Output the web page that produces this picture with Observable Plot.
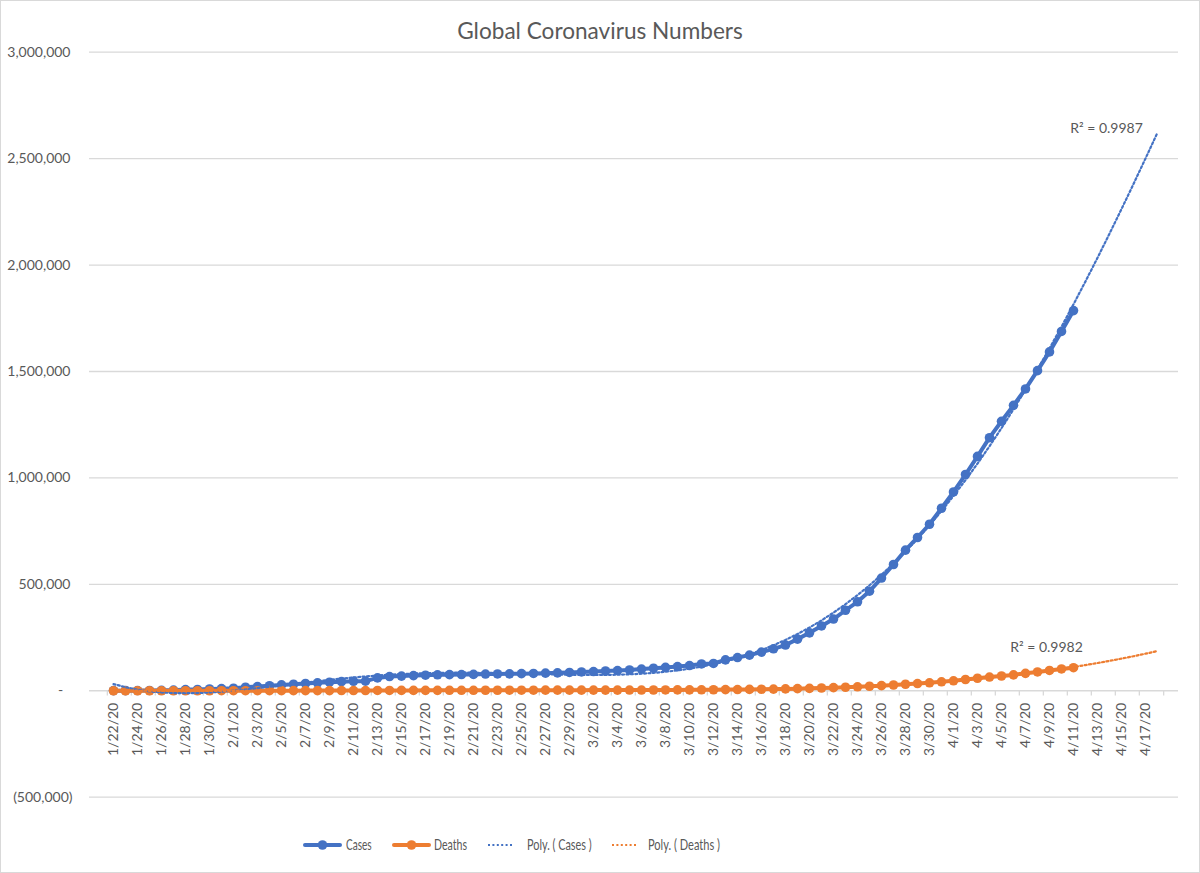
<!DOCTYPE html>
<html>
<head>
<meta charset="utf-8">
<script src="https://cdn.jsdelivr.net/npm/d3@7"></script>
<script src="https://cdn.jsdelivr.net/npm/@observablehq/plot@0.6"></script>
<style>
  html, body { margin: 0; padding: 0; background: #fff; }
  #wrap { position: relative; width: 1198px; height: 871px; border: 1px solid #d9d9d9; background: #fff; overflow: hidden; font-family: Lato, "Open Sans", sans-serif; color: #595959; }
  #title { height: 43px; box-sizing: border-box; padding-top: 18px; text-align: center; font-size: 22.6px; line-height: 24px; color: #595959; }
  #chart svg, #legend svg { display: block; }
</style>
</head>
<body>
<div id="wrap">
  <div id="title">Global Coronavirus Numbers</div>
  <div id="chart"></div>
  <div id="legend"></div>
</div>
<script>
// ---------- data ----------
const dates = [
  "1/22/20","1/23/20","1/24/20","1/25/20","1/26/20","1/27/20","1/28/20","1/29/20","1/30/20","1/31/20",
  "2/1/20","2/2/20","2/3/20","2/4/20","2/5/20","2/6/20","2/7/20","2/8/20","2/9/20","2/10/20",
  "2/11/20","2/12/20","2/13/20","2/14/20","2/15/20","2/16/20","2/17/20","2/18/20","2/19/20","2/20/20",
  "2/21/20","2/22/20","2/23/20","2/24/20","2/25/20","2/26/20","2/27/20","2/28/20","2/29/20",
  "3/1/20","3/2/20","3/3/20","3/4/20","3/5/20","3/6/20","3/7/20","3/8/20","3/9/20","3/10/20",
  "3/11/20","3/12/20","3/13/20","3/14/20","3/15/20","3/16/20","3/17/20","3/18/20","3/19/20","3/20/20",
  "3/21/20","3/22/20","3/23/20","3/24/20","3/25/20","3/26/20","3/27/20","3/28/20","3/29/20","3/30/20","3/31/20",
  "4/1/20","4/2/20","4/3/20","4/4/20","4/5/20","4/6/20","4/7/20","4/8/20","4/9/20","4/10/20",
  "4/11/20","4/12/20","4/13/20","4/14/20","4/15/20","4/16/20","4/17/20","4/18/20"
];
const cases = [
  555, 654, 941, 1434, 2118, 2927, 5578, 6166, 8234, 9927,
  12038, 16787, 19881, 23892, 27635, 30794, 34391, 37120, 40150, 42762,
  44802, 45221, 60368, 66885, 69030, 71224, 73258, 75136, 75639, 76197,
  76823, 78579, 78965, 79568, 80413, 81395, 82754, 84120, 86011,
  88369, 90306, 92840, 95120, 97886, 101801, 105847, 109821, 113590, 118620,
  125875, 128352, 145205, 156101, 167454, 181574, 197102, 214821, 242570, 272208,
  304507, 336953, 378235, 418045, 467653, 529591, 593291, 660706, 720117, 782365, 857487,
  934000, 1016000, 1101000, 1189000, 1266000, 1341000, 1418000, 1504000, 1592000, 1688000,
  1786000
];
const deaths = [
  17, 18, 26, 42, 56, 82, 131, 133, 171, 213,
  259, 362, 426, 492, 564, 634, 719, 806, 906, 1013,
  1113, 1118, 1371, 1523, 1666, 1770, 1868, 2007, 2122, 2247,
  2251, 2458, 2469, 2629, 2708, 2770, 2814, 2872, 2941,
  2996, 3085, 3160, 3254, 3348, 3460, 3558, 3802, 3988, 4262,
  4615, 4720, 5404, 5819, 6440, 7126, 7905, 8733, 9867, 11299,
  12973, 14623, 16497, 18615, 21181, 23970, 27198, 30652, 33925, 37582, 42107,
  46809, 52983, 58787, 64606, 69374, 74565, 81865, 88338, 95455, 102525,
  108503
];
const yTicks = [-500000, 0, 500000, 1000000, 1500000, 2000000, 2500000, 3000000];
const seriesNames = ["Cases", "Deaths", "Poly. ( Cases )", "Poly. ( Deaths )"];
const r2Text = ["R² = 0.9987", "R² = 0.9982"];
const r2Date = ["4/14/20", "4/9/20"];
const r2Value = [2643000, 203000];

// ---------- styling ----------
const BLUE = "#4472C4", ORANGE = "#ED7D31", GRID = "#d9d9d9", TEXT = "#595959";
const trendDegree = 5;
const LINE_W = 4, DOT_R = 4.8, TREND_W = 2.2, TREND_DASH = "2,2.4";

// polynomial least-squares trendline (Excel "Poly." trendline, forecast forward to the last category)
function polyfit(ys, deg) {
  const N = ys.length - 1, m = deg + 1;
  const A = Array.from({length: m}, () => new Array(m).fill(0));
  const b = new Array(m).fill(0);
  ys.forEach((y, i) => {
    const u = i / N;
    const p = [];
    for (let k = 0; k < 2 * m; k++) p.push(Math.pow(u, k));
    for (let r = 0; r < m; r++) {
      b[r] += y * p[r];
      for (let c = 0; c < m; c++) A[r][c] += p[r + c];
    }
  });
  for (let col = 0; col < m; col++) {
    let piv = col;
    for (let r = col + 1; r < m; r++) if (Math.abs(A[r][col]) > Math.abs(A[piv][col])) piv = r;
    [A[col], A[piv]] = [A[piv], A[col]];
    [b[col], b[piv]] = [b[piv], b[col]];
    for (let r = col + 1; r < m; r++) {
      const f = A[r][col] / A[col][col];
      for (let c = col; c < m; c++) A[r][c] -= f * A[col][c];
      b[r] -= f * b[col];
    }
  }
  const coef = new Array(m).fill(0);
  for (let r = m - 1; r >= 0; r--) {
    let s = b[r];
    for (let c = r + 1; c < m; c++) s -= A[r][c] * coef[c];
    coef[r] = s / A[r][r];
  }
  return (i) => coef.reduce((acc, c, k) => acc + c * Math.pow(i / N, k), 0);
}

const caseRows = cases.map((v, i) => ({date: dates[i], value: v}));
const deathRows = deaths.map((v, i) => ({date: dates[i], value: v}));
const fCases = polyfit(cases, trendDegree);
const fDeaths = polyfit(deaths, trendDegree);
const caseTrend = dates.map((d, i) => ({date: d, value: fCases(i)}));
const deathTrend = dates.map((d, i) => ({date: d, value: fDeaths(i)}));
const labelDates = dates.filter((d, i) => i % 2 === 0);
const r2Rows = r2Text.map((t, i) => ({text: t, date: r2Date[i], value: r2Value[i]}));

const W = 1198, H = 780, ML = 91, MR = 21;
const step = (W - ML - MR) / dates.length;
const fmt = d3.format(",");

const chart = Plot.plot({
  width: W, height: H,
  marginLeft: ML, marginRight: MR, marginTop: 7.7, marginBottom: 27.3,
  x: {type: "point", domain: dates, padding: 0.5, axis: null},
  y: {domain: [-500000, 3000000], axis: null},
  style: {fontFamily: "Lato, 'Open Sans', sans-serif", fontSize: "14px", color: TEXT, background: "white", overflow: "visible"},
  marks: [
    Plot.ruleY(yTicks, {y: d => d, stroke: GRID, strokeWidth: 1.3, insetLeft: -3}),
    Plot.ruleX(labelDates, {x: d => d, y1: 0, y2: -24000, dx: -step / 2, stroke: GRID, strokeWidth: 1.3}),
    Plot.ruleX([dates[dates.length - 1]], {x: d => d, y1: 0, y2: -24000, dx: step / 2, stroke: GRID, strokeWidth: 1.3}),
    Plot.text(labelDates, {x: d => d, y: 0, text: d => d, rotate: -90, textAnchor: "end", dy: 12, fill: TEXT, fontSize: 14}),
    Plot.text(yTicks.filter(v => v > 0), {y: d => d, text: d => fmt(d), frameAnchor: "left", textAnchor: "end", dx: -22, fill: TEXT, fontSize: 14}),
    Plot.text(yTicks.filter(v => v === 0), {y: d => d, text: () => "-", frameAnchor: "left", textAnchor: "middle", dx: -32, fill: TEXT, fontSize: 14}),
    Plot.text(yTicks.filter(v => v < 0), {y: d => d, text: d => "(" + fmt(-d) + ")", frameAnchor: "left", textAnchor: "end", dx: -20, fill: TEXT, fontSize: 14}),
    Plot.line(caseRows, {x: "date", y: "value", stroke: BLUE, strokeWidth: LINE_W, strokeLinejoin: "round"}),
    Plot.dot(caseRows, {x: "date", y: "value", r: DOT_R, fill: BLUE, stroke: "none"}),
    Plot.line(deathRows, {x: "date", y: "value", stroke: ORANGE, strokeWidth: LINE_W, strokeLinejoin: "round"}),
    Plot.dot(deathRows, {x: "date", y: "value", r: DOT_R, fill: ORANGE, stroke: "none"}),
    Plot.line(caseTrend, {x: "date", y: "value", stroke: BLUE, strokeWidth: TREND_W, strokeDasharray: TREND_DASH}),
    Plot.line(deathTrend, {x: "date", y: "value", stroke: ORANGE, strokeWidth: TREND_W, strokeDasharray: TREND_DASH}),
    Plot.text(r2Rows, {x: "date", y: "value", text: "text", fill: TEXT, fontSize: 14, dx: -3})
  ]
});
document.getElementById("chart").appendChild(chart);

// ---------- legend ----------
const lg = d3.create("svg").attr("width", W).attr("height", 871 - 43 - H).style("font-family", "Lato, 'Open Sans', sans-serif");
const legendItems = [
  {name: seriesNames[0], color: BLUE, dotted: false, sx: 304, sw: 35, tx: 345, tw: 25.7},
  {name: seriesNames[1], color: ORANGE, dotted: false, sx: 393, sw: 35, tx: 433, tw: 33},
  {name: seriesNames[2], color: BLUE, dotted: true, sx: 487, sw: 25, tx: 526, tw: 64.7},
  {name: seriesNames[3], color: ORANGE, dotted: true, sx: 611, sw: 26, tx: 647, tw: 72}
];
const cy = 21;
for (const it of legendItems) {
  const g = lg.append("g");
  g.append("line").attr("x1", it.sx).attr("x2", it.sx + it.sw).attr("y1", cy).attr("y2", cy)
    .attr("stroke", it.color).attr("stroke-width", it.dotted ? TREND_W : LINE_W)
    .attr("stroke-dasharray", it.dotted ? TREND_DASH : null).attr("stroke-linecap", it.dotted ? "butt" : "round");
  if (!it.dotted) g.append("circle").attr("cx", it.sx + it.sw / 2).attr("cy", cy).attr("r", DOT_R).attr("fill", it.color);
  g.append("text").attr("x", it.tx).attr("y", cy).attr("dy", "0.35em").attr("font-size", 15)
    .attr("fill", TEXT).attr("textLength", it.tw).attr("lengthAdjust", "spacingAndGlyphs").text(it.name);
}
document.getElementById("legend").appendChild(lg.node());
</script>
</body>
</html>
